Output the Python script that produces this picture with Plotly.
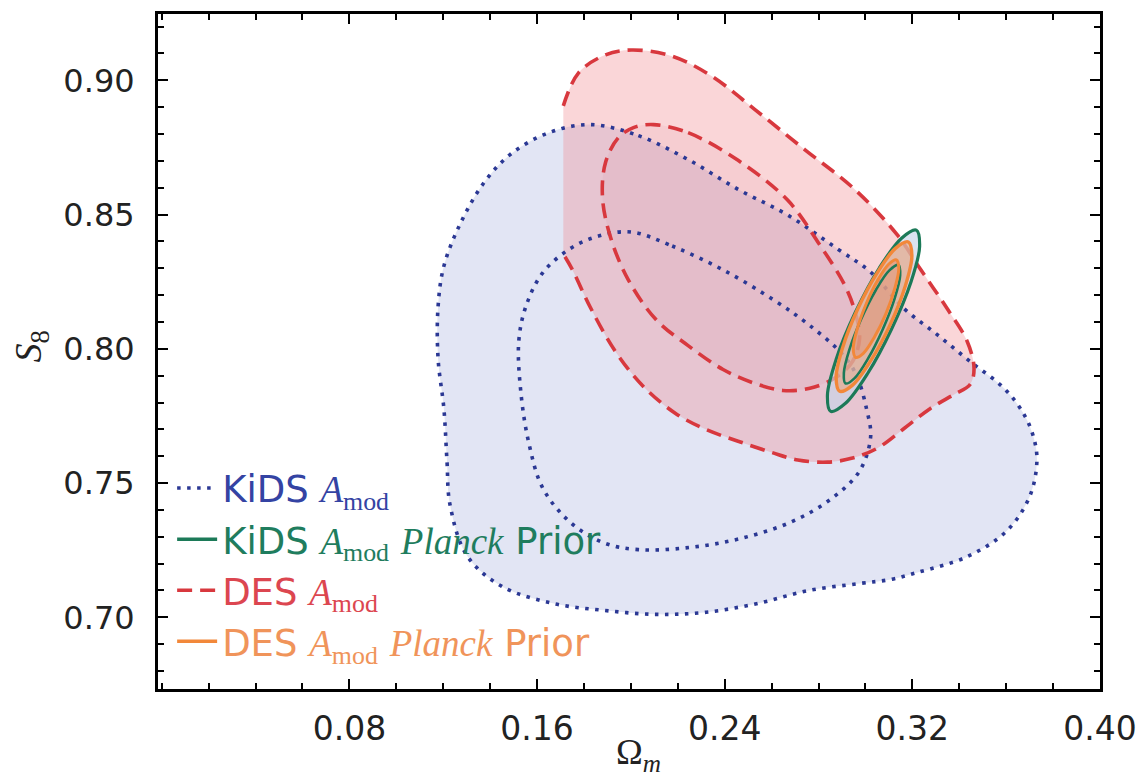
import plotly.graph_objects as go

# ---- KiDS A_mod: 68% (inner) and 95% (outer) contours in (Omega_m, S8) ----
kids_outer_om = [0.1828, 0.2032, 0.2244, 0.2457, 0.2669, 0.2881, 0.3022, 0.3166, 0.3306,
                 0.3446, 0.3591, 0.3676, 0.3718, 0.3731, 0.3701, 0.3604, 0.3434, 0.3221,
                 0.3107, 0.2975, 0.2758, 0.2542, 0.2321, 0.2104, 0.1883, 0.1667, 0.1450,
                 0.1301, 0.1229, 0.1216, 0.1203, 0.1178, 0.1178, 0.1203, 0.1276, 0.1378,
                 0.1492, 0.1650]
kids_outer_s8 = [0.8835, 0.8794, 0.8705, 0.8594, 0.8498, 0.8372, 0.8286, 0.8149, 0.8053,
                 0.7953, 0.7853, 0.7756, 0.7667, 0.7582, 0.7452, 0.7323, 0.7226, 0.7167,
                 0.7141, 0.7126, 0.7100, 0.7052, 0.7019, 0.7011, 0.7026, 0.7052, 0.7115,
                 0.7230, 0.7419, 0.7582, 0.7775, 0.7964, 0.8157, 0.8309, 0.8472, 0.8624,
                 0.8728, 0.8805]

kids_inner_om = [0.2002, 0.2176, 0.2393, 0.2614, 0.2758, 0.2903, 0.2962, 0.3005, 0.3022,
                 0.2975, 0.2860, 0.2686, 0.2465, 0.2249, 0.2032, 0.1883, 0.1739, 0.1624,
                 0.1565, 0.1531, 0.1522, 0.1552, 0.1624, 0.1739, 0.1862]
kids_inner_s8 = [0.8435, 0.8383, 0.8294, 0.8179, 0.8090, 0.7979, 0.7901, 0.7775, 0.7671,
                 0.7545, 0.7445, 0.7356, 0.7293, 0.7260, 0.7252, 0.7278, 0.7356, 0.7482,
                 0.7649, 0.7838, 0.8027, 0.8157, 0.8283, 0.8372, 0.8420]

# ---- DES A_mod: outer contour is cut by the Omega_m prior edge on the left ----
des_outer_om = [0.1712, 0.1777, 0.1892, 0.2002, 0.2172, 0.2342, 0.2529, 0.2741, 0.2954,
                0.3136, 0.3234, 0.3349, 0.3434, 0.3463, 0.3446, 0.3378, 0.3277, 0.3166,
                0.3051, 0.2945, 0.2839, 0.2712, 0.2597, 0.2457, 0.2316, 0.2189, 0.2053,
                0.1934, 0.1828, 0.1751, 0.1712]
des_outer_s8 = [0.8905, 0.9028, 0.9095, 0.9113, 0.9091, 0.9017, 0.8891, 0.8742, 0.8594,
                0.8424, 0.8297, 0.8149, 0.8027, 0.7927, 0.7867, 0.7830, 0.7778, 0.7704,
                0.7630, 0.7593, 0.7578, 0.7586, 0.7615, 0.7656, 0.7701, 0.7760, 0.7860,
                0.7990, 0.8153, 0.8294, 0.8353]
prior_edge_om = 0.1712
prior_edge_s8 = [0.8353, 0.8400, 0.8850, 0.8905]

des_inner_om = [0.2096, 0.2244, 0.2457, 0.2669, 0.2797, 0.2911, 0.2958, 0.2975, 0.2945,
                0.2873, 0.2763, 0.2648, 0.2529, 0.2393, 0.2244, 0.2108, 0.1989, 0.1913,
                0.1879, 0.1892, 0.1947, 0.2011]
des_inner_s8 = [0.8835, 0.8805, 0.8702, 0.8553, 0.8398, 0.8238, 0.8131, 0.8038, 0.7953,
                0.7893, 0.7853, 0.7845, 0.7871, 0.7923, 0.8012, 0.8108, 0.8257, 0.8416,
                0.8564, 0.8694, 0.8787, 0.8824]

# ---- KiDS A_mod with Planck prior ----
kids_pl_outer_om = [0.3217, 0.3231, 0.3193, 0.3111, 0.3010, 0.2915, 0.2852, 0.2838, 0.2876,
                    0.2957, 0.3059, 0.3154]
kids_pl_outer_s8 = [0.8442, 0.8381, 0.8246, 0.8073, 0.7909, 0.7797, 0.7767, 0.7828, 0.7963,
                    0.8136, 0.8301, 0.8412]
kids_pl_inner_om = [0.3141, 0.3148, 0.3124, 0.3074, 0.3012, 0.2954, 0.2915, 0.2908, 0.2932,
                    0.2982, 0.3044, 0.3102]
kids_pl_inner_s8 = [0.8312, 0.8273, 0.8186, 0.8073, 0.7965, 0.7891, 0.7871, 0.7910, 0.7998,
                    0.8111, 0.8218, 0.8292]

# ---- DES A_mod with Planck prior ----
des_pl_outer_om = [0.3183, 0.3198, 0.3170, 0.3106, 0.3023, 0.2944, 0.2890, 0.2875, 0.2903,
                   0.2967, 0.3050, 0.3129]
des_pl_outer_s8 = [0.8398, 0.8346, 0.8234, 0.8091, 0.7956, 0.7864, 0.7842, 0.7893, 0.8005,
                   0.8148, 0.8283, 0.8375]
des_pl_inner_om = [0.3132, 0.3142, 0.3125, 0.3088, 0.3038, 0.2991, 0.2958, 0.2948, 0.2965,
                   0.3003, 0.3052, 0.3099]
des_pl_inner_s8 = [0.8331, 0.8298, 0.8225, 0.8132, 0.8043, 0.7983, 0.7968, 0.8001, 0.8074,
                   0.8167, 0.8255, 0.8315]

x_ticks = [0.08, 0.16, 0.24, 0.32, 0.40]
y_ticks = [0.70, 0.75, 0.80, 0.85, 0.90]

BLUE = "#2b3894"
GREEN = "#1c7a58"
RED = "#d8383e"
ORANGE = "#f2883a"

BLUE_TXT = "#3443a3"
GREEN_TXT = "#1f7d5e"
RED_TXT = "#dc4650"
ORANGE_TXT = "#f0945a"

SERIF = "Liberation Serif"


def loop(v):
    return list(v) + [v[0]]


def amod(color):
    return (f'<span style="font-family:{SERIF};color:{color}"><i>A</i>'
            f'<sub>mod</sub></span>')


def planck(color):
    return f'<span style="font-family:{SERIF};color:{color}"><i>Planck</i></span>'


def sans(text, color):
    return f'<span style="color:{color}">{text}</span>'


fig = go.Figure()


def fill(xs, ys, color):
    fig.add_trace(go.Scatter(x=loop(xs), y=loop(ys), mode="lines", fill="toself",
                             fillcolor=color, line=dict(width=0, shape="spline"),
                             hoverinfo="skip", showlegend=False))


def outline(xs, ys, color, width, dash, closed=True):
    fig.add_trace(go.Scatter(x=loop(xs) if closed else list(xs),
                             y=loop(ys) if closed else list(ys),
                             mode="lines",
                             line=dict(color=color, width=width, dash=dash, shape="spline"),
                             hoverinfo="skip", showlegend=False))


# filled regions
fill(kids_outer_om, kids_outer_s8, "#e2e5f4")
des_fill_om = des_outer_om + [prior_edge_om] * len(prior_edge_s8)
des_fill_s8 = des_outer_s8 + prior_edge_s8
fill(des_fill_om, des_fill_s8, "rgba(240,135,140,0.34)")
fill(des_inner_om, des_inner_s8, "rgba(200,100,125,0.08)")

# contour lines
dot = "3.5px,6.5px"
dash = "15px,8px"
outline(kids_outer_om, kids_outer_s8, BLUE, 3.6, dot)
outline(kids_inner_om, kids_inner_s8, BLUE, 3.6, dot)
outline(des_outer_om, des_outer_s8, RED, 3.6, dash, closed=False)
outline(des_inner_om, des_inner_s8, RED, 3.6, dash)

# Planck-prior contours
fill(kids_pl_outer_om, kids_pl_outer_s8, "rgba(200,212,232,0.65)")
fill(des_pl_outer_om, des_pl_outer_s8, "rgba(238,150,95,0.45)")
fill(des_pl_inner_om, des_pl_inner_s8, "rgba(225,120,80,0.30)")
outline(kids_pl_outer_om, kids_pl_outer_s8, GREEN, 3.2, "solid")
outline(kids_pl_inner_om, kids_pl_inner_s8, GREEN, 2.6, "solid")
outline(des_pl_outer_om, des_pl_outer_s8, ORANGE, 3.4, "solid")
outline(des_pl_inner_om, des_pl_inner_s8, ORANGE, 3.0, "solid")

# legend entries
legend_items = [
    (sans("KiDS ", BLUE_TXT) + amod(BLUE_TXT), BLUE, dot),
    (sans("KiDS ", GREEN_TXT) + amod(GREEN_TXT) + " " + planck(GREEN_TXT)
     + sans(" Prior", GREEN_TXT), GREEN, "solid"),
    (sans("DES ", RED_TXT) + amod(RED_TXT), RED, dash),
    (sans("DES ", ORANGE_TXT) + amod(ORANGE_TXT) + " " + planck(ORANGE_TXT)
     + sans(" Prior", ORANGE_TXT), ORANGE, "solid"),
]
for label, color, d in legend_items:
    fig.add_trace(go.Scatter(x=[None], y=[None], mode="lines", name=label,
                             line=dict(color=color, width=3.5, dash=d),
                             showlegend=True))

axis_common = dict(
    showline=True, linewidth=3, linecolor="black", mirror="allticks",
    ticks="inside", ticklen=10, tickwidth=2, tickcolor="black",
    showgrid=False, zeroline=False,
)

fig.update_xaxes(range=[-0.0016, 0.40], tickmode="array", tickvals=x_ticks,
                 ticktext=[f"{v:.2f}" for v in x_ticks], ticklabelstandoff=8,
                 tickfont=dict(family="DejaVu Sans", size=33, color="#222222"),
                 minor=dict(ticks="inside", ticklen=6, tickwidth=1.5, tickcolor="black",
                            dtick=0.02, tick0=0.0, showgrid=False),
                 **axis_common)
fig.update_yaxes(range=[0.6733, 0.9247], tickmode="array", tickvals=y_ticks,
                 ticktext=[f"{v:.2f}" for v in y_ticks], ticklabelstandoff=14,
                 tickfont=dict(family="DejaVu Sans", size=32, color="#222222"),
                 minor=dict(ticks="inside", ticklen=6, tickwidth=1.5, tickcolor="black",
                            dtick=0.01, tick0=0.0, showgrid=False),
                 **axis_common)

fig.update_layout(
    width=1148, height=781, autosize=False,
    margin=dict(l=158, r=46, t=11, b=92),
    paper_bgcolor="white", plot_bgcolor="white",
    showlegend=True,
    legend=dict(x=0.015, y=0.343, xanchor="left", yanchor="top",
                bgcolor="rgba(0,0,0,0)", borderwidth=0,
                font=dict(family="DejaVu Sans", size=37),
                itemwidth=40, traceorder="normal"),
    annotations=[
        dict(xref="paper", yref="paper", x=0.51, y=-0.097, xanchor="center",
             yanchor="middle", showarrow=False,
             text=f'<span style="font-family:{SERIF}">Ω<sub><i>m</i></sub></span>',
             font=dict(size=36, color="#222222")),
        dict(xref="paper", yref="paper", x=-0.135, y=0.507, xanchor="center",
             yanchor="middle", showarrow=False, textangle=-90,
             text=f'<span style="font-family:{SERIF}"><i>S</i><sub>8</sub></span>',
             font=dict(size=38, color="#222222")),
    ],
)

fig.write_html("out.html")
